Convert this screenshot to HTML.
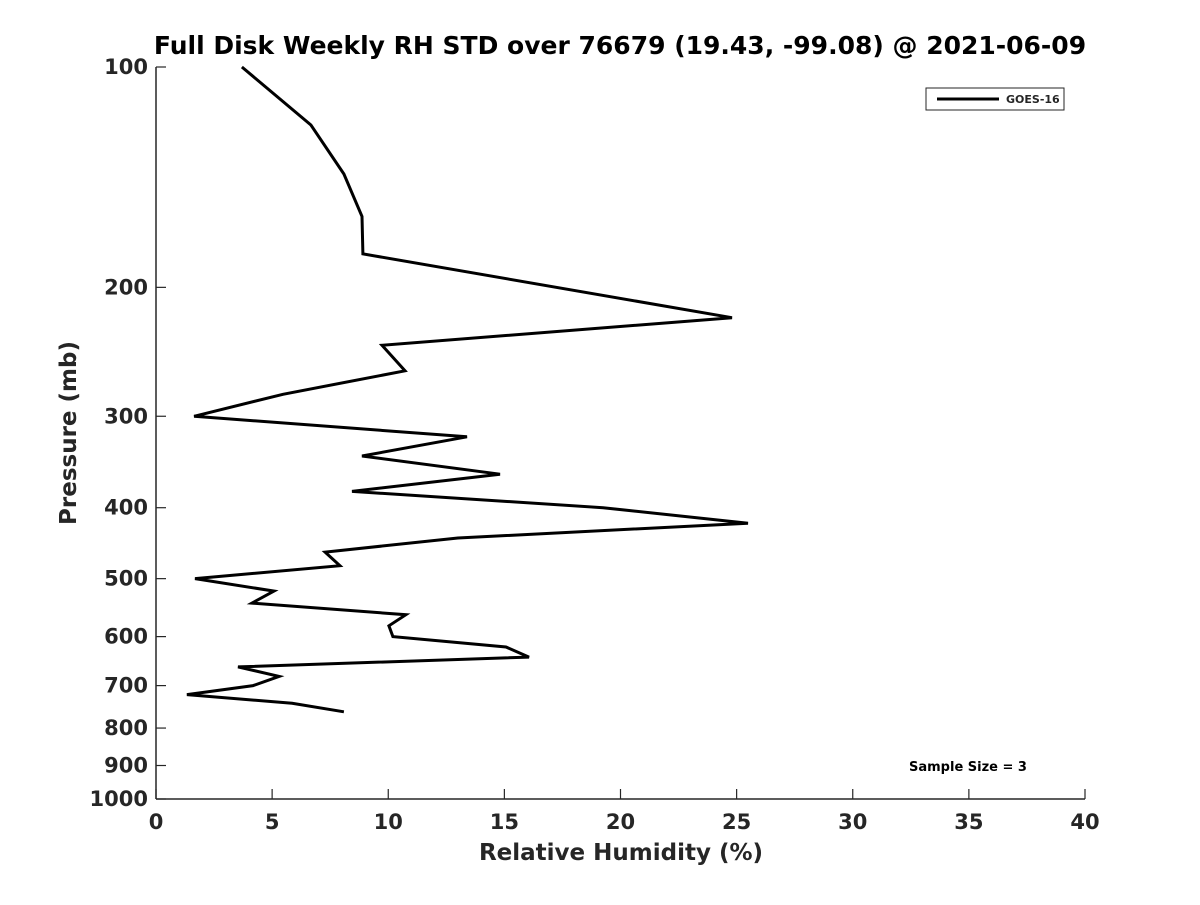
<!DOCTYPE html>
<html><head><meta charset="utf-8"><style>
html,body{margin:0;padding:0;background:#fff;}
svg text{font-family:"DejaVu Sans","Liberation Sans",sans-serif;font-weight:bold;fill:#262626;}
</style></head><body>
<svg id="chart" width="1200" height="900" viewBox="0 0 1200 900">
<rect width="1200" height="900" fill="#fff"/>
<text x="620" y="54" font-size="25" text-anchor="middle" fill="#000" style="fill:#000">Full Disk Weekly RH STD over 76679 (19.43, -99.08) @ 2021-06-09</text>
<g id="axes"></g>
<text x="621" y="860" font-size="23" text-anchor="middle">Relative Humidity (%)</text>
<text x="0" y="0" font-size="23" text-anchor="middle" transform="translate(76,433) rotate(-90)">Pressure (mb)</text>
<g>
<rect x="926" y="88" width="138" height="22" fill="#fff" stroke="#262626" stroke-width="1"/>
<line x1="937" y1="99" x2="999" y2="99" stroke="#000" stroke-width="3"/>
<text x="1006" y="103" font-size="11">GOES-16</text>
</g>
<text x="968" y="771" font-size="13" text-anchor="middle" fill="#000" style="fill:#000">Sample Size = 3</text>
</svg>
<script>
const pressures=[100,120,140,160,180,220,240,260,280,300,320,340,360,380,400,420,440,460,480,500,520,540,560,580,600,620,640,660,680,700,720,740,760];
const rh=[3.7,6.67,8.09,8.87,8.91,24.8,9.73,10.72,5.47,1.64,13.39,8.87,14.81,8.44,19.25,25.49,13.0,7.28,7.92,1.68,5.08,4.13,10.76,10.03,10.2,15.07,16.06,3.53,5.30,4.18,1.33,5.86,8.09];
const xTicks=[0,5,10,15,20,25,30,35,40];
const yTicks=[100,200,300,400,500,600,700,800,900,1000];
const X0=156,X1=1085,Y0=67,Y1=799;
const xs=v=>X0+(v-0)/(40-0)*(X1-X0);
const ys=p=>Y0+(Math.log10(p)-2)*(Y1-Y0);
const NS='http://www.w3.org/2000/svg';
const g=document.getElementById('axes');
function mk(t,a){const e=document.createElementNS(NS,t);for(const k in a)e.setAttribute(k,a[k]);g.appendChild(e);return e;}
let ax=mk('line',{x1:X0,y1:Y1,x2:X1,y2:Y1,stroke:'#262626','stroke-width':1.5});


let ay=mk('line',{x1:X0,y1:Y0,x2:X0,y2:Y1,stroke:'#262626','stroke-width':1.5});


xTicks.forEach(v=>{
  const x=xs(v);
  const l=mk('line',{x1:x,y1:Y1,x2:x,y2:Y1-10,stroke:'#262626','stroke-width':1.2});
  
  
  const t=mk('text',{x:x,y:Y1+30,'font-size':21,'text-anchor':'middle'});
  t.textContent=v;
  
  
});
yTicks.forEach(v=>{
  const y=ys(v);
  const l=mk('line',{x1:X0,y1:y,x2:X0+10,y2:y,stroke:'#262626','stroke-width':1.2});
  
  
  const t=mk('text',{x:X0-8,y:y+7,'font-size':21,'text-anchor':'end'});
  t.textContent=v;
  
  
});
const pts=rh.map((v,i)=>xs(v).toFixed(1)+','+ys(pressures[i]).toFixed(1)).join(' ');
const pl=mk('polyline',{points:pts,fill:'none',stroke:'#000','stroke-width':3,'stroke-linejoin':'miter'});


</script>
</body></html>
